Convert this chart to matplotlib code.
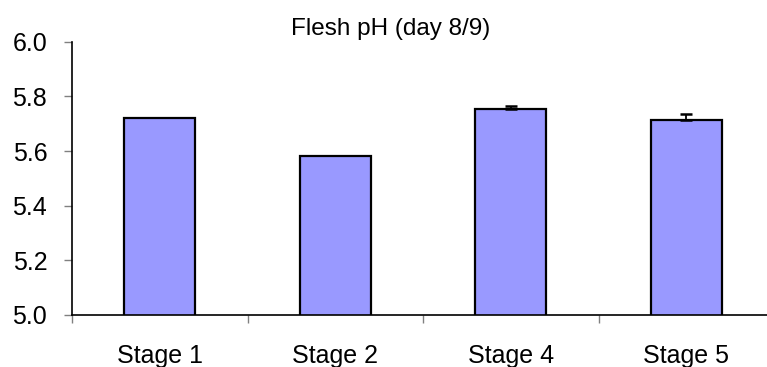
import matplotlib
matplotlib.use("Agg")
import matplotlib.pyplot as plt
import numpy as np

plt.rcParams['font.family'] = ['Liberation Sans', 'DejaVu Sans']

# data
stages = ["Stage 1", "Stage 2", "Stage 4", "Stage 5"]
ph_mean = [5.72, 5.58, 5.752, 5.712]
ph_err = [0.0, 0.0, 0.013, 0.024]
title = "Flesh pH (day 8/9)"
y_ticks = [5.0, 5.2, 5.4, 5.6, 5.8, 6.0]

W, H = 767, 367
fig = plt.figure(figsize=(W / 100, H / 100), dpi=100)
ax = fig.add_axes([72 / W, (H - 315) / H, 702 / W, 273.3 / H])

x = np.arange(len(stages))
ax.bar(x, ph_mean, width=0.405, color="#9999FF",
       edgecolor="black", linewidth=1.6, zorder=2)

# only draw error bars where there is a spread
err = np.array(ph_err)
has = err > 0
ax.errorbar(x[has], np.array(ph_mean)[has], yerr=[np.zeros(has.sum()), err[has]],
            fmt="none", ecolor="black", elinewidth=1.3, capsize=4.3,
            capthick=1.8, zorder=3)

ax.set_xlim(-0.5, len(stages) - 0.5)
ax.set_ylim(5.0, 6.0)
ax.set_yticks(y_ticks)
ax.set_yticklabels([f"{v:.1f}" for v in y_ticks], fontsize=18)
ax.set_xticks(x)
ax.set_xticklabels(stages, fontsize=18)
ax.set_xticks(np.arange(len(stages) + 1) - 0.5, minor=True)
ax.tick_params(axis="x", which="major", length=0, pad=21)
ax.tick_params(axis="x", which="minor", length=5.5, color="#808080", width=1)
ax.tick_params(axis="y", length=5.8, color="#808080", width=1, pad=12)

for s in ["top", "right"]:
    ax.spines[s].set_visible(False)
for s in ["left", "bottom"]:
    ax.spines[s].set_linewidth(1.2)
ax.spines["bottom"].set_zorder(4)

fig.text(391 / W, 1 - 35 / H, title, ha="center", va="baseline", fontsize=17.5)

fig.savefig("out.png", dpi=100)
